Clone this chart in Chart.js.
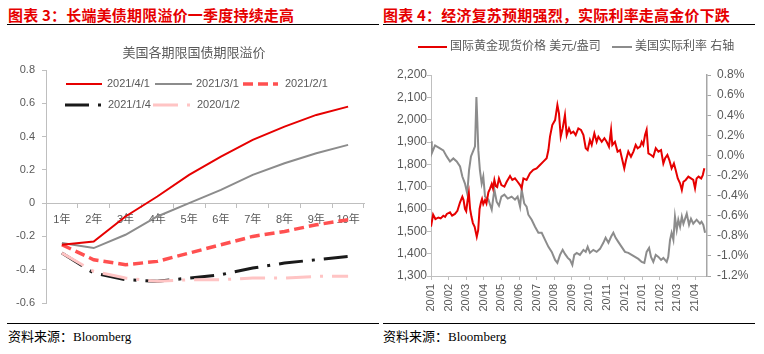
<!DOCTYPE html>
<html>
<head>
<meta charset="utf-8">
<script src="https://cdn.jsdelivr.net/npm/chart.js@4.4.0/dist/chart.umd.min.js"></script>
<style>
  body { margin: 0; width: 764px; height: 354px; background: #fff; overflow: hidden; position: relative; }
  .head { position: absolute; top: 4px; font: bold 15px "Noto Sans CJK SC", sans-serif; color: #e60000; letter-spacing: 0.2px; white-space: nowrap; }
  .rule { position: absolute; height: 1px; background: #000; }
  .foot { position: absolute; top: 326px; font: 13px "Liberation Serif", "Noto Sans CJK SC", serif; color: #000; white-space: nowrap; }
  canvas { position: absolute; top: 30px; }
</style>
</head>
<body>
<div class="head" style="left:8px">图表 3：长端美债期限溢价一季度持续走高</div>
<div class="rule" style="left:7px; top:24px; width:372px"></div>
<div class="head" style="left:383px">图表 4：经济复苏预期强烈，实际利率走高金价下跌</div>
<div class="rule" style="left:383px; top:24px; width:372px"></div>

<canvas id="left" width="380" height="290" style="left:0"></canvas>
<canvas id="right" width="384" height="290" style="left:380px"></canvas>

<div class="rule" style="left:7px; top:323px; width:372px"></div>
<div class="foot" style="left:8px">资料来源：Bloomberg</div>
<div class="rule" style="left:383px; top:323px; width:372px"></div>
<div class="foot" style="left:383px">资料来源：Bloomberg</div>

<script>
// ---- left chart: term premium by tenor ----
const tenors = ['1年', '2年', '3年', '4年', '5年', '6年', '7年', '8年', '9年', '10年'];
const tp20210401 = [-0.25, -0.23, -0.08, 0.04, 0.17, 0.28, 0.38, 0.46, 0.53, 0.58];
const tp20210301 = [-0.24, -0.27, -0.19, -0.08, 0.0, 0.08, 0.17, 0.24, 0.30, 0.35];
const tp20210201 = [-0.25, -0.34, -0.37, -0.35, -0.30, -0.25, -0.20, -0.17, -0.13, -0.10];
const tp20210104 = [-0.30, -0.42, -0.46, -0.47, -0.45, -0.43, -0.39, -0.36, -0.34, -0.32];
const tp20200102 = [-0.30, -0.41, -0.45, -0.47, -0.46, -0.46, -0.45, -0.45, -0.44, -0.44];

// ---- right chart: gold vs real rate (x = months since 2020/01) ----
const monthLabels = ['20/01', '20/02', '20/03', '20/04', '20/05', '20/06', '20/07', '20/08',
  '20/09', '20/10', '20/11', '20/12', '21/01', '21/02', '21/03', '21/04'];

const goldT = [
  0, 0.12, 0.25, 0.42, 0.55, 0.7, 0.8, 0.9, 1.08, 1.2,
  1.36, 1.5, 1.65, 1.78, 1.85, 1.93, 2.0, 2.08, 2.15, 2.22,
  2.3, 2.38, 2.48, 2.6, 2.68, 2.76, 2.84, 2.9, 2.97, 3.07,
  3.15, 3.26, 3.35, 3.45, 3.52, 3.6, 3.68, 3.76, 3.86, 4.0,
  4.17, 4.3, 4.49, 4.62, 4.77, 4.92, 5.06, 5.15, 5.25, 5.43,
  5.62, 5.81, 6.0, 6.19, 6.38, 6.57, 6.67, 6.76, 6.89, 7.05,
  7.18, 7.27, 7.37, 7.48, 7.61, 7.71, 7.84, 7.95, 8.09, 8.22,
  8.37, 8.52, 8.66, 8.79, 8.9, 9.03, 9.13, 9.28, 9.41, 9.51,
  9.7, 9.85, 9.98, 10.11, 10.23, 10.3, 10.45, 10.6, 10.74, 10.87,
  10.98, 11.08, 11.21, 11.36, 11.5, 11.63, 11.74, 11.88, 11.97, 12.06,
  12.16, 12.25, 12.35, 12.5, 12.63, 12.77, 12.92, 13.07, 13.2, 13.3,
  13.43, 13.54, 13.67, 13.8, 13.9, 14.02, 14.15, 14.25, 14.34, 14.47,
  14.62, 14.77, 14.9, 15.0, 15.09, 15.2, 15.35, 15.44, 15.53
];
const goldPrice = [
  1521, 1575, 1555, 1562, 1558, 1570, 1565, 1578, 1585, 1570,
  1578, 1592, 1630, 1655, 1640, 1600, 1590, 1640, 1672, 1600,
  1565, 1537, 1520, 1476, 1505, 1600, 1630, 1645, 1622, 1640,
  1625, 1675, 1690, 1712, 1692, 1730, 1702, 1698, 1737, 1707,
  1700, 1722, 1748, 1730, 1737, 1722, 1707, 1693, 1737, 1730,
  1760, 1775, 1782, 1797, 1812, 1827, 1864, 1924, 1976, 1998,
  2066, 2028, 1924, 1961, 2021, 1931, 1961, 1939, 1946, 1931,
  1961, 1954, 1931, 1872, 1864, 1909, 1887, 1939, 1901, 1924,
  1901, 1917, 1901, 1879, 1954, 1887, 1901, 1857, 1864, 1819,
  1782, 1819, 1857, 1834, 1857, 1887, 1872, 1879, 1901, 1887,
  1931, 1954, 1849, 1842, 1834, 1872, 1857, 1864, 1804, 1827,
  1842, 1819, 1782, 1804, 1775, 1737, 1715, 1685, 1722, 1730,
  1745, 1737, 1730, 1693, 1737, 1745, 1737, 1752, 1782
];

const rateT = [
  0, 0.04, 0.23, 0.51, 0.7, 0.89, 1.08, 1.27, 1.46, 1.65,
  1.78, 1.93, 2.06, 2.16, 2.27, 2.41, 2.5, 2.58, 2.63, 2.69,
  2.78, 2.88, 2.97, 3.07, 3.26, 3.45, 3.6, 3.73, 3.86, 4.0,
  4.17, 4.36, 4.58, 4.77, 4.92, 5.06, 5.15, 5.3, 5.43, 5.53,
  5.72, 5.91, 6.1, 6.29, 6.48, 6.67, 6.86, 7.05, 7.18, 7.33,
  7.48, 7.61, 7.77, 7.9, 8.03, 8.14, 8.28, 8.46, 8.66, 8.79,
  8.9, 9.03, 9.22, 9.41, 9.6, 9.79, 9.92, 10.08, 10.23, 10.36,
  10.49, 10.64, 10.83, 11.02, 11.21, 11.4, 11.59, 11.78, 11.97, 12.12,
  12.25, 12.39, 12.5, 12.63, 12.77, 12.92, 13.07, 13.2, 13.39, 13.48,
  13.58, 13.67, 13.77, 13.86, 13.96, 14.05, 14.15, 14.25, 14.34, 14.53,
  14.66, 14.77, 14.9, 15.09, 15.28, 15.37, 15.47, 15.57
];
const realRate = [
  0.14, 0.02, 0.10, 0.07, 0.05, -0.01, -0.06, -0.03, -0.06, -0.11,
  -0.21, -0.28, -0.38, -0.15, -0.01, 0.05, 0.09, 0.58, 0.35, 0.05,
  -0.15, -0.28, -0.21, -0.41, -0.44, -0.54, -0.34, -0.46, -0.50, -0.41,
  -0.39, -0.43, -0.41, -0.44, -0.41, -0.51, -0.34, -0.48, -0.51, -0.59,
  -0.64, -0.71, -0.77, -0.77, -0.84, -0.91, -0.96, -1.04, -1.07, -0.99,
  -0.94, -0.98, -1.02, -1.04, -1.09, -0.99, -0.97, -0.99, -0.94, -0.96,
  -0.91, -0.97, -0.94, -0.96, -0.93, -0.87, -0.82, -0.87, -0.81, -0.77,
  -0.82, -0.86, -0.91, -0.96, -0.97, -0.99, -1.01, -1.03, -1.06, -1.07,
  -0.96, -0.92, -1.01, -1.06, -0.99, -1.01, -1.04, -1.02, -1.06, -1.01,
  -0.84, -0.77, -0.84, -0.61, -0.74, -0.64, -0.71, -0.61, -0.68, -0.58,
  -0.69, -0.63, -0.68, -0.64, -0.68, -0.66, -0.69, -0.77
];

const FONT = '"Liberation Sans", "Noto Sans CJK SC", sans-serif';
const TXT = '#595959';
const AXIS = '#bfbfbf';

// draws the legend samples (with their dash patterns) and an optional chart title
const manualLegend = {
  id: 'manualLegend',
  afterDraw(chart, args, opts) {
    const ctx = chart.ctx;
    ctx.save();
    if (opts.title) {
      ctx.font = opts.title.font;
      ctx.fillStyle = TXT;
      ctx.textAlign = 'center';
      ctx.textBaseline = 'middle';
      ctx.fillText(opts.title.text, opts.title.x, opts.title.y);
    }
    opts.items.forEach(it => {
      const ds = chart.data.datasets[it.index];
      ctx.strokeStyle = ds.borderColor;
      ctx.lineWidth = ds.borderWidth;
      ctx.setLineDash(ds.borderDash || []);
      ctx.lineCap = 'butt';
      ctx.beginPath();
      ctx.moveTo(it.x0, it.y);
      ctx.lineTo(it.x1, it.y);
      ctx.stroke();
      ctx.setLineDash([]);
      ctx.font = opts.font;
      ctx.fillStyle = TXT;
      ctx.textAlign = 'left';
      ctx.textBaseline = 'middle';
      ctx.fillText(ds.label, it.tx, it.y);
    });
    ctx.restore();
  }
};

Chart.defaults.font.family = FONT;
Chart.defaults.color = TXT;

const termLine = (label, data, color, width, dash) => ({
  label, data,
  borderColor: color,
  borderWidth: width,
  borderDash: dash,
  pointRadius: 0,
  fill: false,
  tension: 0
});

new Chart(document.getElementById('left'), {
  type: 'line',
  data: {
    labels: tenors,
    datasets: [
      termLine('2021/4/1', tp20210401, '#e60000', 2, []),
      termLine('2021/3/1', tp20210301, '#8c8c8c', 2, []),
      termLine('2021/2/1', tp20210201, '#ff5050', 3.5, [10, 5]),
      termLine('2020/1/2', tp20200102, '#ffc4c4', 3, [25, 9, 3, 9]),
      termLine('2021/1/4', tp20210104, '#1a1a1a', 3, [24, 9, 3, 9])
    ]
  },
  plugins: [manualLegend],
  options: {
    responsive: false,
    animation: false,
    devicePixelRatio: 1,
    layout: { padding: { left: 0, right: 16, top: 40, bottom: 17 } },
    plugins: {
      legend: { display: false },
      tooltip: { enabled: false },
      manualLegend: {
        font: '11px ' + FONT,
        title: { text: '美国各期限国债期限溢价', x: 194, y: 23, font: '13px ' + FONT },
        items: [
          { index: 0, x0: 66, x1: 102, tx: 107, y: 54 },
          { index: 1, x0: 155, x1: 192, tx: 196, y: 54 },
          { index: 2, x0: 243, x1: 278, tx: 285, y: 54 },
          { index: 4, x0: 65, x1: 104, tx: 108, y: 75 },
          { index: 3, x0: 153, x1: 191, tx: 197, y: 75 }
        ]
      }
    },
    scales: {
      x: {
        type: 'category',
        position: { y: 0 },
        offset: true,
        grid: { drawOnChartArea: false, offset: true, tickLength: 4, color: AXIS },
        border: { color: AXIS },
        ticks: { font: { size: 11 }, padding: 6, maxRotation: 0, autoSkip: false }
      },
      y: {
        min: -0.6,
        max: 0.8,
        afterFit: s => { s.width = 46; },
        grid: { drawOnChartArea: false, tickLength: 4, color: AXIS },
        border: { color: AXIS },
        ticks: { stepSize: 0.2, font: { size: 11 }, padding: 7 }
      }
    }
  }
});

const toPoints = (ts, vs) => ts.map((t, i) => ({ x: t, y: vs[i] }));

new Chart(document.getElementById('right'), {
  type: 'line',
  data: {
    datasets: [
      {
        label: '国际黄金现货价格 美元/盎司',
        data: toPoints(goldT, goldPrice),
        yAxisID: 'y',
        borderColor: '#e60000',
        borderWidth: 2,
        pointRadius: 0,
        tension: 0
      },
      {
        label: '美国实际利率 右轴',
        data: toPoints(rateT, realRate),
        yAxisID: 'y1',
        borderColor: '#8c8c8c',
        borderWidth: 2,
        pointRadius: 0,
        tension: 0
      }
    ]
  },
  plugins: [manualLegend],
  options: {
    responsive: false,
    animation: false,
    devicePixelRatio: 1,
    layout: { padding: { left: 0, right: 0, top: 45, bottom: 0 } },
    plugins: {
      legend: { display: false },
      tooltip: { enabled: false },
      manualLegend: {
        font: '12px ' + FONT,
        items: [
          { index: 0, x0: 38, x1: 67, tx: 70, y: 17 },
          { index: 1, x0: 232, x1: 252, tx: 255, y: 17 }
        ]
      }
    },
    scales: {
      x: {
        type: 'linear',
        min: 0,
        max: 15.68,
        afterBuildTicks: s => { s.ticks = monthLabels.map((l, i) => ({ value: i })); },
        afterFit: s => { s.height = 44; },
        grid: { drawOnChartArea: false, tickLength: 4, color: AXIS },
        border: { color: AXIS },
        ticks: {
          autoSkip: false,
          minRotation: 90,
          maxRotation: 90,
          padding: 4,
          font: { size: 11 },
          callback: v => monthLabels[v]
        }
      },
      y: {
        position: 'left',
        min: 1300,
        max: 2200,
        afterFit: s => { s.width = 51; },
        grid: { drawOnChartArea: false, tickLength: 4, color: AXIS },
        border: { color: AXIS },
        ticks: { stepSize: 100, padding: 0, font: { size: 12 }, callback: v => v.toLocaleString('en-US') }
      },
      y1: {
        position: 'right',
        min: -1.2,
        max: 0.8,
        afterFit: s => { s.width = 57; },
        grid: { drawOnChartArea: false, tickLength: 4, color: '#a6a6a6' },
        border: { color: '#a6a6a6', width: 1.5 },
        ticks: { stepSize: 0.2, padding: 6, font: { size: 12 }, callback: v => v.toFixed(1) + '%' }
      }
    }
  }
});
</script>
</body>
</html>
